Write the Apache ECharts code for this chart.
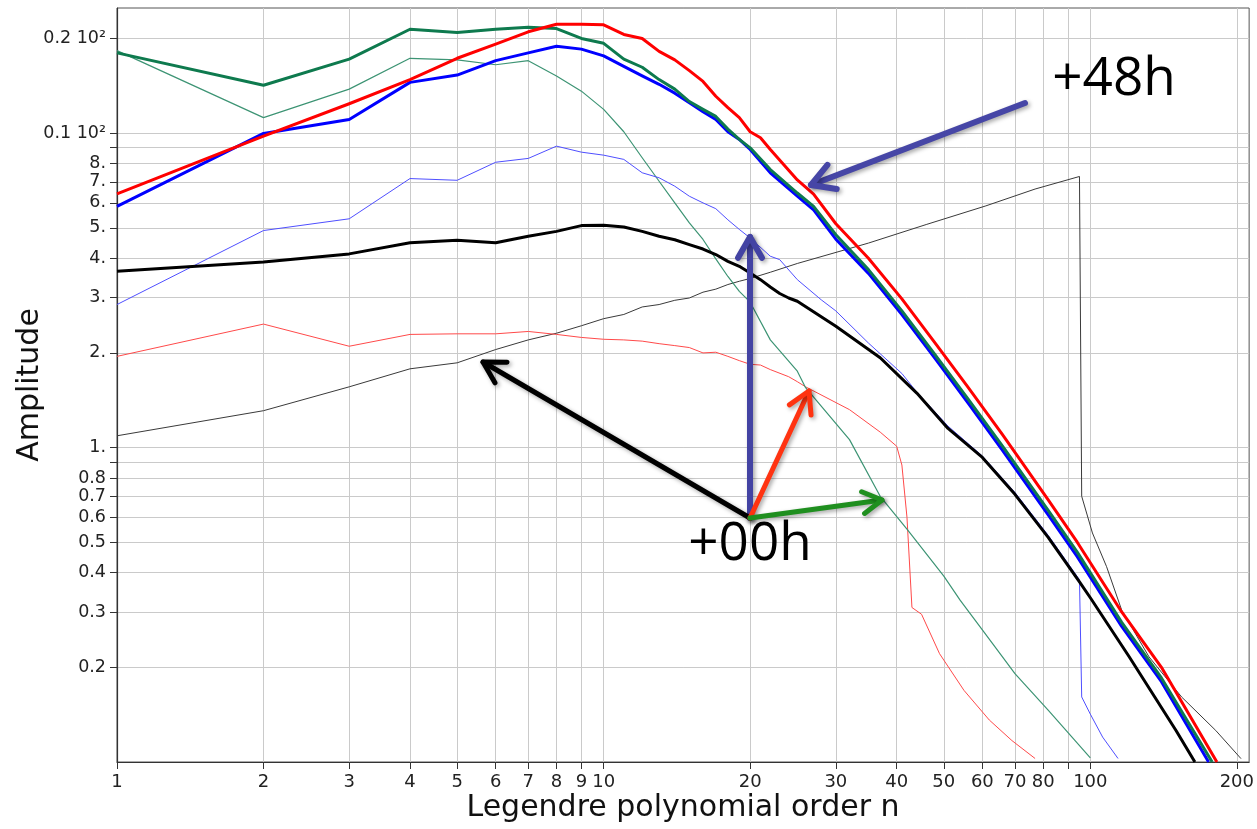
<!DOCTYPE html>
<html><head><meta charset="utf-8">
<script src="https://cdn.jsdelivr.net/npm/echarts@6/dist/echarts.min.js"></script>
<style>html,body{margin:0;padding:0;background:#fff}#c{width:1257px;height:829px}</style>
</head><body><div id="c"></div>
<script>
// ---------- axis ticks / labels ----------
const xTicks = [1,2,3,4,5,6,7,8,9,10,20,30,40,50,60,70,80,90,100,200];
const xLabelValues = [1,2,3,4,5,6,7,8,9,10,20,30,40,50,60,70,80,100,200];
const yTicks = [0.2,0.3,0.4,0.5,0.6,0.7,0.8,0.9,1,2,3,4,5,6,7,8,9,10,20];
const yLabelValues = [0.2,0.3,0.4,0.5,0.6,0.7,0.8,1,2,3,4,5,6,7,8,10,20];
const yLabelTexts = ['0.2','0.3','0.4','0.5','0.6','0.7','0.8','1.','2.','3.','4.','5.','6.','7.','8.','0.1 10\u00b2','0.2 10\u00b2'];

// ---------- series (n = Legendre order, values = amplitude) ----------
const nThickRed = [1,2,3,4,5,6,7,8,9,10,11,12,13,14,15,16,17,18,19,20,21,22,25,27,30,35,41,48,56,66,82,94,116,140,182];
const thickRed  = [6.41,9.78,12.4,14.8,17.3,19.2,21.0,22.2,22.2,22.1,20.6,20.0,18.2,17.1,15.8,14.6,13.1,12.05,11.2,10.1,9.67,8.87,7.1,6.4,5.15,4.0,2.97,2.15,1.56,1.10,0.68,0.5,0.30,0.20,0.10];

const nThickBlue = [1,2,3,4,5,6,7,8,9,10,11,12,13,14,15,16,17,18,19,20,22,25,27,30,35,41,48,56,66,82,94,116,140,175];
const thickBlue  = [5.85,9.98,11.05,14.5,15.3,17.0,18.0,18.9,18.5,17.6,16.3,15.2,14.3,13.4,12.5,11.7,11.05,10.1,9.55,8.87,7.48,6.3,5.7,4.6,3.58,2.65,1.92,1.39,0.98,0.61,0.45,0.27,0.18,0.10];

const nThickGreen = [1,2,3,4,5,6,7,8,9,10,11,12,13,14,15,16,17,18,19,20,22,25,27,30,35,41,48,56,66,82,94,116,140,178];
const thickGreen  = [18.0,14.2,17.2,21.4,20.9,21.4,21.7,21.5,20.0,19.3,17.2,16.2,14.8,13.8,12.6,11.9,11.3,10.3,9.55,8.98,7.66,6.45,5.85,4.75,3.68,2.72,1.97,1.43,1.01,0.63,0.465,0.278,0.185,0.10];

const nThickBlack = [1,2,3,4,5,6,7,8,9,10,11,12,13,14,15,16,17,18,19,20,21,22,23,24,25,30,37,44,51,60,70,82,95,100,120,150,164];
const thickBlack  = [3.64,3.89,4.13,4.48,4.56,4.48,4.70,4.87,5.08,5.09,5.03,4.87,4.70,4.58,4.42,4.28,4.11,3.91,3.77,3.59,3.42,3.24,3.09,2.99,2.92,2.43,1.93,1.49,1.15,0.93,0.71,0.517,0.374,0.333,0.217,0.126,0.10];

const nThinBlue = [1,2,3,4,5,6,7,8,9,10,11,12,13,14,15,16,17,18,19,20,22,23,25,28,30,35,41,44,51,60,70,82,95,96,100,106,114];
const thinBlue  = [2.85,4.90,5.34,7.17,7.08,8.08,8.31,9.09,8.70,8.51,8.25,7.48,7.21,6.78,6.3,6.0,5.75,5.3,4.94,4.64,4.06,3.96,3.42,2.95,2.72,2.15,1.72,1.50,1.17,0.94,0.72,0.525,0.38,0.161,0.142,0.12,0.1026];

const nThinGreen = [1,2,3,4,5,6,7,8,9,10,11,12,13,14,15,16,17,18,19,20,22,25,26,32,37,42,50,54,60,70,82,100];
const thinGreen  = [18.3,11.2,13.8,17.3,17.1,16.5,17.0,15.2,13.6,11.9,10.1,8.35,7.03,6.0,5.18,4.59,3.98,3.50,3.14,2.90,2.2,1.75,1.55,1.06,0.70,0.55,0.39,0.327,0.263,0.191,0.146,0.103];

const nThinRed = [1,2,3,4,5,6,7,8,9,10,11,12,13,14,15,16,17,18,19,20,21,22,24,25,26,32,37,40,41,42,43,45,49,55,62,69,77];
const thinRed  = [1.95,2.47,2.10,2.29,2.30,2.30,2.34,2.29,2.24,2.21,2.20,2.18,2.14,2.11,2.08,2.0,2.01,1.95,1.89,1.84,1.83,1.77,1.68,1.62,1.56,1.32,1.12,1.01,0.88,0.60,0.31,0.295,0.221,0.169,0.136,0.117,0.1026];

const nThinGray = [1,2,3,4,5,6,7,8,9,10,11,12,13,14,15,16,17,18,19,20,22,25,35,46,61,77,95,96,101,108,116,132,154,181,204];
const thinGray  = [1.09,1.31,1.56,1.78,1.86,2.05,2.20,2.31,2.44,2.57,2.65,2.80,2.85,2.94,2.99,3.12,3.19,3.30,3.38,3.45,3.61,3.85,4.47,5.12,5.87,6.64,7.28,0.70,0.535,0.418,0.304,0.216,0.161,0.126,0.1025];

const FONT = 'DejaVu Sans';
const ANN_FONT = 'Open Sans';

function pairs(ns, vs){ return ns.map((n,i)=>[n, vs[i]]); }
function line(name, ns, vs, color, width){
  return { name, type:'line', data: pairs(ns, vs), showSymbol:false, symbol:'none',
    lineStyle:{color, width, join:'round'}, itemStyle:{color}, animation:false, z: 2 };
}

function arrow(x1,y1,x2,y2,color,w,head){
  const a = Math.atan2(y2-y1, x2-x1), ang = 0.52;
  const p1 = [x2 - head*Math.cos(a-ang), y2 - head*Math.sin(a-ang)];
  const p2 = [x2 - head*Math.cos(a+ang), y2 - head*Math.sin(a+ang)];
  const st = {stroke:color, lineWidth:w, lineCap:'round', lineJoin:'round', fill:null,
    shadowBlur:4, shadowColor:'rgba(0,0,0,0.35)', shadowOffsetX:2, shadowOffsetY:2};
  return [
    {type:'polyline', shape:{points:[[x1,y1],[x2,y2]]}, style:st, z:100},
    {type:'polyline', shape:{points:[p1,[x2,y2],p2]}, style:st, z:100}
  ];
}

const chart = echarts.init(document.getElementById('c'), null, {renderer:'canvas'});
const option = {
  animation:false,
  backgroundColor:'#fff',
  grid:{left:117, right:7, top:8, bottom:67, show:true, borderColor:'#555', borderWidth:1},
  xAxis:{
    type:'log', logBase:10, min:1, max:212,
    axisLine:{show:true, lineStyle:{color:'#333', width:1.2}},
    axisTick:{show:true, length:7, lineStyle:{color:'#333'}, customValues:xTicks},
    axisLabel:{show:true, customValues:xLabelValues, margin:11, fontFamily:FONT, fontSize:18, color:'#222',
      formatter:(v)=>String(Math.round(v))},
    splitLine:{show:true, lineStyle:{color:'#cacaca', width:1}},
    minorTick:{show:false}, minorSplitLine:{show:false}
  },
  yAxis:{
    type:'log', logBase:10, min:0.1, max:25,
    axisLine:{show:true, lineStyle:{color:'#333', width:1.2}},
    axisTick:{show:true, length:7, lineStyle:{color:'#333'}, customValues:yTicks},
    axisLabel:{show:true, customValues:yLabelValues, margin:11, fontFamily:FONT, fontSize:17.5, color:'#222',
      formatter:(v)=>{
        for (let i=0;i<yLabelValues.length;i++){ if (Math.abs(v-yLabelValues[i]) < 1e-6*yLabelValues[i]) return yLabelTexts[i]; }
        return '';
      }},
    splitLine:{show:true, lineStyle:{color:'#cacaca', width:1}},
    minorTick:{show:false}, minorSplitLine:{show:false}
  },
  series:[
    line('thin gray', nThinGray, thinGray, '#3a3a3a', 1),
    line('thin red', nThinRed, thinRed, '#ff4a4a', 1),
    line('thin green', nThinGreen, thinGreen, '#3d9474', 1.2),
    line('thin blue', nThinBlue, thinBlue, '#4f4fff', 1),
    line('thick black', nThickBlack, thickBlack, '#000000', 3),
    line('thick blue', nThickBlue, thickBlue, '#0000ff', 3),
    line('thick green', nThickGreen, thickGreen, '#0e7a4e', 3),
    line('thick red', nThickRed, thickRed, '#ff0000', 3)
  ],
  graphic:[
    {type:'text', x:683, y:808, z:50, style:{text:'Legendre polynomial order n', fontFamily:FONT, fontSize:30, fill:'#111', align:'center', verticalAlign:'middle'}},
    {type:'text', x:30, y:385, rotation:Math.PI/2, z:50, style:{text:'Amplitude', fontFamily:FONT, fontSize:30, fill:'#111', align:'center', verticalAlign:'middle'}},
    ...arrow(1025,103,811,185,'#4646a6',6,26),
    ...arrow(750,518,750,237,'#4343a3',6,24),
    ...arrow(750,518,483,362,'#000000',5,24),
    ...arrow(750,518,809,391,'#ff3311',5,24),
    ...arrow(750,518,882,500,'#1f8f1f',5,22),
    {type:'text', x:1114, y:80, z:110, style:{text:'+48h', fontFamily:ANN_FONT, fontSize:53, fill:'#000', align:'center', verticalAlign:'middle'}},
    {type:'text', x:750, y:545, z:110, style:{text:'+00h', fontFamily:ANN_FONT, fontSize:53, fill:'#000', align:'center', verticalAlign:'middle'}}
  ]
};
chart.setOption(option);
</script>
</body></html>
